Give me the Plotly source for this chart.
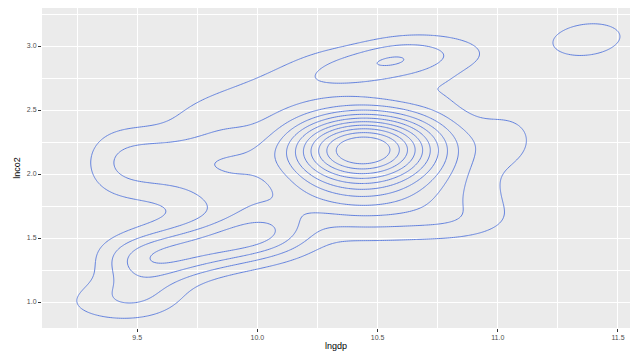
import numpy as np
import plotly.graph_objects as go

# Density bumps (lngdp, lnco2 units)
bump_x      = [10.44, 10.45, 10.57, 10.04, 9.66, 9.78, 9.48, 9.38, 11.05, 10.85, 10.88, 10.80, 9.90, 11.37]
bump_y      = [2.20, 1.78, 2.89, 2.64, 2.09, 1.43, 1.05, 1.00, 2.28, 1.62, 2.92, 2.68, 1.80, 3.05]
bump_along  = [0.23, 0.36, 0.20, 0.36, 0.30, 0.35, 0.15, 0.22, 0.10, 0.15, 0.10, 0.10, 0.15, 0.20]
bump_cross  = [0.20, 0.20, 0.12, 0.13, 0.20, 0.14, 0.14, 0.13, 0.17, 0.10, 0.10, 0.12, 0.10, 0.16]
bump_angle  = [5, 0, 20, 36, 0, 22, 0, 10, 0, 0, 0, 0, 0, 30]
bump_power  = [2, 2, 2, 4, 4, 4, 2, 2, 2, 2, 2, 2, 2, 2]   # exponent along the main axis
bump_height = [12.0, 3.0, 3.0, 1.35, 2.6, 4.3, 1.3, 0.75, 1.05, 0.6, 0.4, 0.5, 0.5, 1.3]

contour_levels = [1, 11, 1]  # start, end, step
x_ticks = [9.5, 10.0, 10.5, 11.0, 11.5]
y_ticks = [1.0, 1.5, 2.0, 2.5, 3.0]

gx = np.linspace(9.0, 11.7, 340)
gy = np.linspace(0.7, 3.4, 340)
X, Y = np.meshgrid(gx, gy)
Z = np.zeros_like(X)
for x0, y0, sa, sb, ang, pw, h in zip(bump_x, bump_y, bump_along, bump_cross,
                                      bump_angle, bump_power, bump_height):
    t = np.deg2rad(ang)
    dx, dy = X - x0, Y - y0
    u = dx * np.cos(t) + dy * np.sin(t)
    v = -dx * np.sin(t) + dy * np.cos(t)
    q = np.abs(u / sa) ** pw + (v / sb) ** 2
    Z += h * np.exp(-0.5 * q)

line_col = "#6382de"
fig = go.Figure(go.Contour(
    x=gx, y=gy, z=Z,
    contours=dict(start=contour_levels[0], end=contour_levels[1], size=contour_levels[2],
                  coloring="lines"),
    colorscale=[[0, line_col], [1, line_col]],
    line=dict(width=1),
    showscale=False,
    hoverinfo="skip",
))

font_fam = "Liberation Sans, Arial, sans-serif"
axis_common = dict(
    showgrid=True, gridcolor="white", gridwidth=1,
    zeroline=False, showline=False, automargin=False,
    ticks="outside", ticklen=3, tickcolor="#333333", tickwidth=1,
    tickfont=dict(family=font_fam, size=7, color="#4d4d4d"),
)
fig.update_xaxes(range=[9.104, 11.55], tickvals=x_ticks, ticktext=[f"{v:.1f}" for v in x_ticks],
                 minor=dict(dtick=0.25, tick0=9.25, showgrid=True, gridcolor="white", gridwidth=0.5, ticks=""),
                 title=dict(text="lngdp", font=dict(family=font_fam, size=9, color="#000"), standoff=2),
                 **axis_common)
fig.update_yaxes(range=[0.797, 3.297], tickvals=y_ticks, ticktext=[f"{v:.1f}" for v in y_ticks],
                 minor=dict(dtick=0.25, tick0=0.75, showgrid=True, gridcolor="white", gridwidth=0.5, ticks=""),
                 title=dict(text="lnco2", font=dict(family=font_fam, size=9, color="#000"), standoff=4),
                 **axis_common)
fig.update_layout(
    width=632, height=361,
    margin=dict(l=42, r=2, t=8, b=33),
    plot_bgcolor="#EBEBEB", paper_bgcolor="white",
    showlegend=False,
)
fig.write_html("out.html", config={"displayModeBar": False},
               post_script="document.body.style.margin='0';document.body.style.overflow='hidden';")
